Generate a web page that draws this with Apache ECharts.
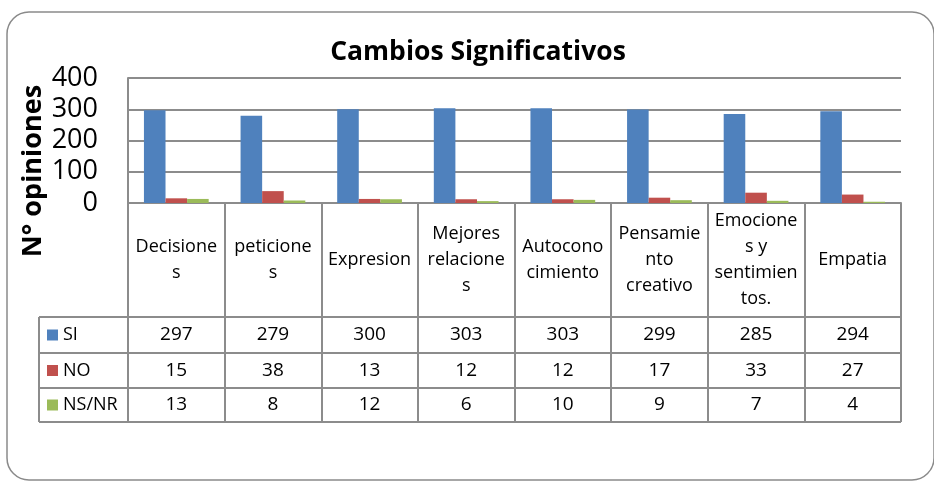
<!DOCTYPE html>
<html lang="es">
<head>
    <meta charset="UTF-8">
    <title>Cambios Significativos</title>
    <script src="https://cdn.jsdelivr.net/npm/echarts@6/dist/echarts.min.js"></script>
    <style>
        body { margin: 0; background: #fff; }
        #main { width: 934px; height: 481px; }
    </style>
</head>
<body>
<div id="main"></div>
<script>
    // datos
    var categorias = ['Decisione\ns', 'peticione\ns', 'Expresion', 'Mejores\nrelacione\ns',
        'Autocono\ncimiento', 'Pensamie\nnto\ncreativo', 'Emocione\ns y\nsentimien\ntos.', 'Empatia'];
    var series_nombres = ['SI', 'NO', 'NS/NR'];
    var si = [297, 279, 300, 303, 303, 299, 285, 294];
    var no = [15, 38, 13, 12, 12, 17, 33, 27];
    var nsnr = [13, 8, 12, 6, 10, 9, 7, 4];
    var yTicks = [0, 100, 200, 300, 400];

    var colores = ['#4F81BD', '#C0504D', '#9BBB59'];
    var gris = '#8c8c8c';
    var fuente = '"Open Sans", sans-serif';

    var myChart = echarts.init(document.getElementById('main'));

    var valores = [si, no, nsnr];

    myChart.setOption({
        animation: false,
        grid: {left: 128, right: 33, top: 78, bottom: 278},
        xAxis: {
            type: 'category',
            data: categorias,
            axisLine: {lineStyle: {color: gris, width: 2}},
            axisTick: {show: true, length: 219, lineStyle: {color: gris, width: 2}},
            axisLabel: {
                interval: 0,
                margin: 57,
                verticalAlign: 'middle',
                fontFamily: fuente,
                fontSize: 18,
                lineHeight: 26,
                color: '#000'
            }
        },
        yAxis: {
            type: 'value',
            min: yTicks[0],
            max: yTicks[yTicks.length - 1],
            interval: 100,
            axisLine: {show: true, lineStyle: {color: gris, width: 2}},
            axisTick: {show: false},
            axisLabel: {margin: 30, fontFamily: fuente, fontSize: 27, color: '#000'},
            splitLine: {lineStyle: {color: gris, width: 2}}
        },
        series: series_nombres.map(function (n, k) {
            return {
                name: n,
                type: 'bar',
                data: valores[k],
                barGap: '0%',
                barCategoryGap: '33%',
                itemStyle: {color: colores[k]}
            };
        })
    });

    // tabla de datos debajo del eje
    var xs = categorias.map(function (c) {
        return myChart.convertToPixel({xAxisIndex: 0}, c);
    });
    var anchoCol = xs[1] - xs[0];
    var x1 = xs[xs.length - 1] + anchoCol / 2;
    var xEtiq = 39;
    var filas = [317, 353, 388, 422];

    var g = [];
    // titulo
    g.push({
        type: 'text', x: 478, y: 52,
        style: {text: 'Cambios Significativos', font: 'bold 26.5px ' + fuente, fill: '#000',
            textAlign: 'center', textVerticalAlign: 'middle'}
    });
    // nombre eje y
    g.push({
        type: 'text', x: 33, y: 171, rotation: Math.PI / 2,
        style: {text: 'N° opiniones', font: 'bold 27px ' + fuente, fill: '#000',
            textAlign: 'center', textVerticalAlign: 'middle'}
    });
    // borde del grafico
    g.push({
        type: 'rect', z: -1,
        shape: {x: 7, y: 12, width: 927, height: 468, r: 22},
        style: {fill: 'none', stroke: '#8a8a8a', lineWidth: 1.5}
    });
    // lineas horizontales de la tabla
    filas.forEach(function (y) {
        g.push({
            type: 'line', shape: {x1: xEtiq, y1: y, x2: x1, y2: y},
            style: {stroke: gris, lineWidth: 2}
        });
    });
    g.push({
        type: 'line', shape: {x1: xEtiq, y1: filas[0], x2: xEtiq, y2: filas[3]},
        style: {stroke: gris, lineWidth: 2}
    });
    // filas de valores
    series_nombres.forEach(function (n, k) {
        var yc = (filas[k] + filas[k + 1]) / 2;
        g.push({
            type: 'rect', shape: {x: 47, y: yc - 5.5, width: 11, height: 11},
            style: {fill: colores[k]}
        });
        g.push({
            type: 'text', x: 63, y: yc,
            style: {text: n, font: '18px ' + fuente, fill: '#000', textVerticalAlign: 'middle'}
        });
        valores[k].forEach(function (v, i) {
            g.push({
                type: 'text', x: xs[i], y: yc,
                style: {text: String(v), font: '19px ' + fuente, fill: '#000',
                    textAlign: 'center', textVerticalAlign: 'middle'}
            });
        });
    });

    myChart.setOption({graphic: g});
</script>
</body>
</html>
